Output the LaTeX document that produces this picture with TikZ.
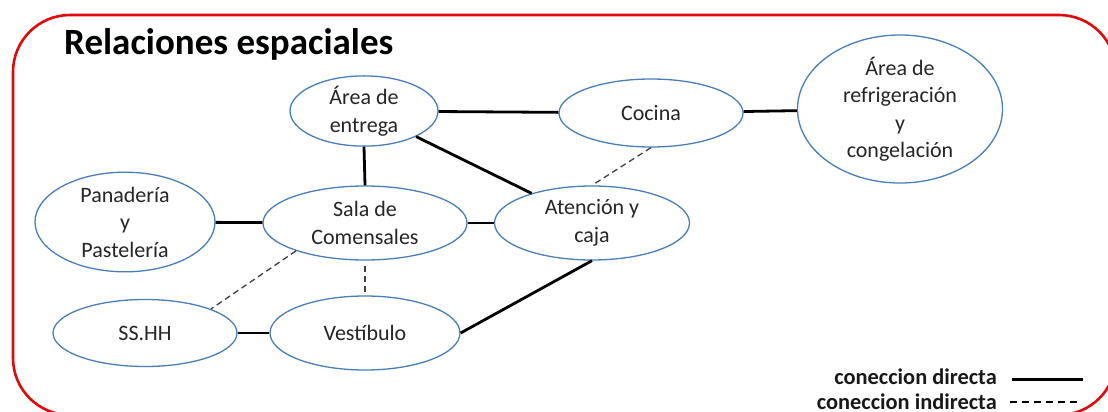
\documentclass[tikz,border=0pt]{standalone}
\usepackage{fontspec}
\setmainfont{Carlito}
\usetikzlibrary{shapes.geometric}
\definecolor{ellblue}{RGB}{74,126,187}
\definecolor{framered}{RGB}{225,10,10}
\tikzset{
  area/.style={ellipse, draw=ellblue, line width=1.3pt, fill=white, inner sep=0pt,
    align=center, font=\fontsize{22}{27.5}\selectfont, text=black!85},
  direct/.style={line width=2.8pt, black},
  indirect/.style={line width=1.3pt, black!75, dash pattern=on 6pt off 4pt},
  legendtext/.style={font=\fontsize{22.4}{26}\selectfont\bfseries, text=black!90, inner sep=0pt},
}
\begin{document}
\begin{tikzpicture}[x=1pt,y=-1pt]
\useasboundingbox (0,0) rectangle (1108,412);
\fill[white] (0,0) rectangle (1108,412);
\begin{scope}
\clip (0,0) rectangle (1108,412);
\draw[framered, line width=2.6pt, rounded corners=57pt] (13,15) rectangle (1116,415);
\end{scope}

\node[anchor=base west, inner sep=0pt, font=\fontsize{37}{41}\selectfont\bfseries, text=black] (title) at (64,55) {Relaciones espaciales};

\node[area, minimum width=148pt, minimum height=67pt] (ae) at (364,111) {Área de\\entrega};
\node[area, minimum width=184pt, minimum height=68pt] (co) at (651,113) {Cocina};
\node[area, minimum width=205pt, minimum height=128pt] (rf) at (900,109) {Área de\\refrigeración\\y\\congelación};
\node[area, minimum width=180pt, minimum height=97pt] (pa) at (125,222) {Panadería\\y\\Pastelería};
\node[area, minimum width=204pt, minimum height=74pt] (sa) at (365,223) {Sala de\\Comensales};
\node[area, minimum width=195pt, minimum height=74pt] (at) at (592,223) {Atención y\\caja};
\node[area, minimum width=184pt, minimum height=67pt] (ss) at (145,333) {SS.HH};
\node[area, minimum width=190pt, minimum height=74pt] (ve) at (365,333) {Vestíbulo};

\draw[direct] (ae) -- (co);
\draw[direct] (co) -- (rf);
\draw[direct] (ae.south) -- (sa.north);
\draw[direct] (ae) -- (at);
\draw[direct] (pa) -- (sa);
\draw[direct] (sa) -- (at);
\draw[direct] (ss) -- (ve);
\draw[direct] (ve.east) -- (at.south);
\draw[indirect] (co.south) -- (at.north);
\draw[indirect] (sa.202) -- (ss.20);
\draw[indirect, shorten <=5pt] (sa.south) -- (ve.north);

\node[legendtext, anchor=base east] (ld) at (997,384) {coneccion directa};
\node[legendtext, anchor=base east] (li) at (997,409) {coneccion indirecta};
\coordinate (lda) at (1012,379);
\coordinate (ldb) at (1083,379);
\coordinate (lia) at (1010,402);
\coordinate (lib) at (1080,402);
\draw[line width=3pt, black] (lda) -- (ldb);
\draw[line width=1.2pt, black, dash pattern=on 7pt off 5pt] (lia) -- (lib);
\end{tikzpicture}
\end{document}
